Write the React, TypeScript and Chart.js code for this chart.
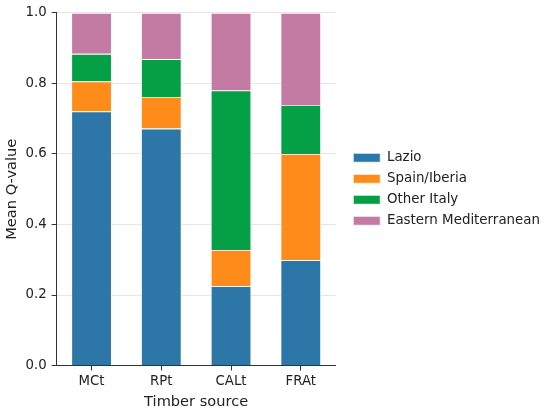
import { useEffect, useRef } from "react";
import { Chart, registerables } from "chart.js";

Chart.register(...registerables);

const sources = ["MCt", "RPt", "CALt", "FRAt"];
const lazio = [0.721, 0.672, 0.225, 0.299];
const spainIberia = [0.085, 0.09, 0.103, 0.301];
const otherItaly = [0.078, 0.107, 0.452, 0.139];
const easternMed = [0.116, 0.131, 0.22, 0.261];
const yTicks = [0, 0.2, 0.4, 0.6, 0.8, 1.0];

const FONT = "'DejaVu Sans', sans-serif";

// nudge the legend away from the plot and centre it on the axes, like matplotlib's bbox_to_anchor
const legendShift = {
  id: "legendShift",
  afterLayout(chart: any) {
    const lg = chart.legend;
    if (lg) {
      lg.left += 10;
      lg.right += 10;
      const dy = (chart.chartArea.top + chart.chartArea.bottom) / 2 - (lg.top + lg.bottom) / 2;
      lg.top += dy;
      lg.bottom += dy;
    }
  },
};

export default function App() {
  const canvasRef = useRef<HTMLCanvasElement>(null);
  const chartRef = useRef<Chart | null>(null);

  useEffect(() => {
    if (!canvasRef.current) return;
    if (chartRef.current) chartRef.current.destroy();

    const seg = (label: string, data: number[], color: string) => ({
      label,
      data,
      backgroundColor: color,
      borderColor: "#ffffff",
      borderWidth: 0.8,
      barPercentage: 0.58,
      categoryPercentage: 1,
    });

    chartRef.current = new Chart(canvasRef.current, {
      type: "bar",
      data: {
        labels: sources,
        datasets: [
          seg("Lazio", lazio, "#2d77a8"),
          seg("Spain/Iberia", spainIberia, "#ff8c1a"),
          seg("Other Italy", otherItaly, "#05a046"),
          seg("Eastern Mediterranean", easternMed, "#c47ba3"),
        ],
      },
      options: {
        responsive: true,
        maintainAspectRatio: false,
        animation: false,
        layout: { padding: { left: 3, right: 10, top: 11, bottom: 0 } },
        plugins: {
          tooltip: { enabled: false },
          legend: {
            position: "right",
            maxWidth: 260,
            labels: {
              boxWidth: 27,
              boxHeight: 9,
              padding: 7.6,
              color: "#222",
              font: { family: FONT, size: 13.4 },
            },
          },
        },
        scales: {
          x: {
            stacked: true,
            grid: {
              drawOnChartArea: false,
              offset: false,
              tickLength: 5,
              tickColor: "#333",
            },
            border: { color: "#333", width: 1 },
            ticks: { color: "#222", padding: 3, font: { family: FONT, size: 13.3 } },
            title: {
              display: true,
              text: "Timber source",
              color: "#222",
              padding: { top: 1, bottom: 0 },
              font: { family: FONT, size: 14.6 },
            },
          },
          y: {
            stacked: true,
            min: 0,
            max: 1,
            afterBuildTicks: (axis: any) => {
              axis.ticks = yTicks.map((v) => ({ value: v }));
            },
            grid: { color: "#e6e6e6", tickColor: "#333", tickLength: 5 },
            border: { color: "#333", width: 1 },
            ticks: {
              color: "#222",
              padding: 5,
              font: { family: FONT, size: 13.3 },
              callback: (v: any) => Number(v).toFixed(1),
            },
            title: {
              display: true,
              text: "Mean Q-value",
              color: "#222",
              padding: { top: 0, bottom: 0 },
              font: { family: FONT, size: 14.6 },
            },
          },
        },
      },
      plugins: [legendShift],
    });

    return () => {
      if (chartRef.current) {
        chartRef.current.destroy();
        chartRef.current = null;
      }
    };
  }, []);

  return (
    <div
      style={{
        position: "fixed",
        left: 0,
        top: 0,
        width: 550,
        height: 411,
        background: "#fff",
      }}
    >
      <canvas ref={canvasRef}></canvas>
    </div>
  );
}
